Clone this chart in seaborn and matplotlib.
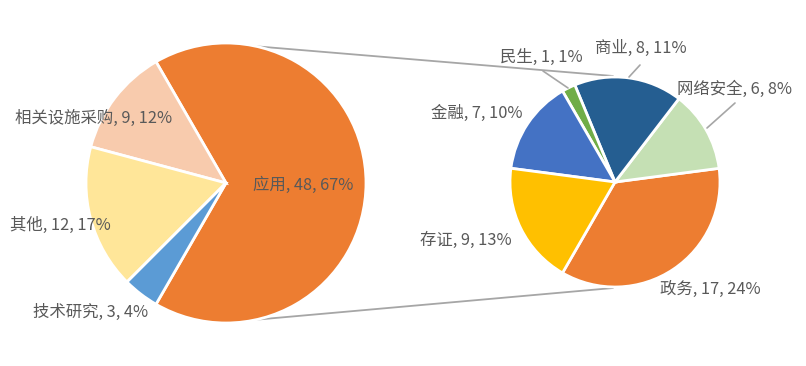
import numpy as np
import matplotlib
matplotlib.use('Agg')
import matplotlib.pyplot as plt
import seaborn as sns

# main pie
main_labels = ['应用', '相关设施采购', '其他', '技术研究']
main_values = [48, 9, 12, 3]
main_pcts = [67, 12, 17, 4]
main_colors = ['#ED7D31', '#F8CBAD', '#FFE699', '#5B9BD5']

# split-out pie (breakdown of 应用)
sub_labels = ['政务', '网络安全', '商业', '民生', '金融', '存证']
sub_values = [17, 6, 8, 1, 7, 9]
sub_pcts = [24, 8, 11, 1, 10, 13]
sub_colors = ['#ED7D31', '#C5E0B4', '#255E91', '#70AD47', '#4472C4', '#FFC000']

sns.set_theme(style='white')
plt.rcParams['font.family'] = ['Noto Sans CJK SC', 'DejaVu Sans']

W, H = 806, 366
fig = plt.figure(figsize=(W / 100, H / 100), dpi=100)
ax = fig.add_axes([0, 0, 1, 1])


def py(y):
    # pixel row -> data y
    return H - y


c1, r1 = (226, py(183)), 140
c2, r2 = (615, py(182)), 105

wedge_kw = dict(edgecolor='white', linewidth=2)
ax.pie(main_values, colors=main_colors, startangle=-120, counterclock=True,
       center=c1, radius=r1, wedgeprops=wedge_kw)
ax.pie(sub_values, colors=sub_colors, startangle=240, counterclock=True,
       center=c2, radius=r2, wedgeprops=wedge_kw)

ax.set_xlim(0, W)
ax.set_ylim(0, H)
ax.set_aspect('equal')
ax.axis('off')

# connector lines between the two pies
line_col = '#A6A6A6'
for a in (77.5, -77.5):
    x0 = c1[0] + r1 * np.cos(np.radians(a))
    y0 = c1[1] + r1 * np.sin(np.radians(a))
    x1 = c2[0] - 2
    y1 = c2[1] + np.sign(a) * (r2 + 1)
    ax.plot([x0, x1], [y0, y1], color=line_col, lw=1.3, zorder=0)

txt_col = '#595959'
fs = 11.8

main_pos = [(253, 185), (15, 118), (10, 225), (33, 312)]
for lab, v, p, (x, y) in zip(main_labels, main_values, main_pcts, main_pos):
    ax.text(x, py(y), f'{lab}, {v}, {p}%', ha='left', va='center',
            fontsize=fs, color=txt_col)

sub_pos = [(660, 289), (677, 89), (595, 48), (500, 57), (431, 113), (420, 240)]
for lab, v, p, (x, y) in zip(sub_labels, sub_values, sub_pcts, sub_pos):
    ax.text(x, py(y), f'{lab}, {v}, {p}%', ha='left', va='center',
            fontsize=fs, color=txt_col)

# leader lines for the small outer labels
leaders = [((543, 71), (568, 88)), ((640, 65), (629, 77)), ((735, 103), (707, 128))]
for (xa, ya), (xb, yb) in leaders:
    ax.plot([xa, xb], [py(ya), py(yb)], color=line_col, lw=1.2)

fig.savefig('out.png', dpi=100, facecolor='white')
